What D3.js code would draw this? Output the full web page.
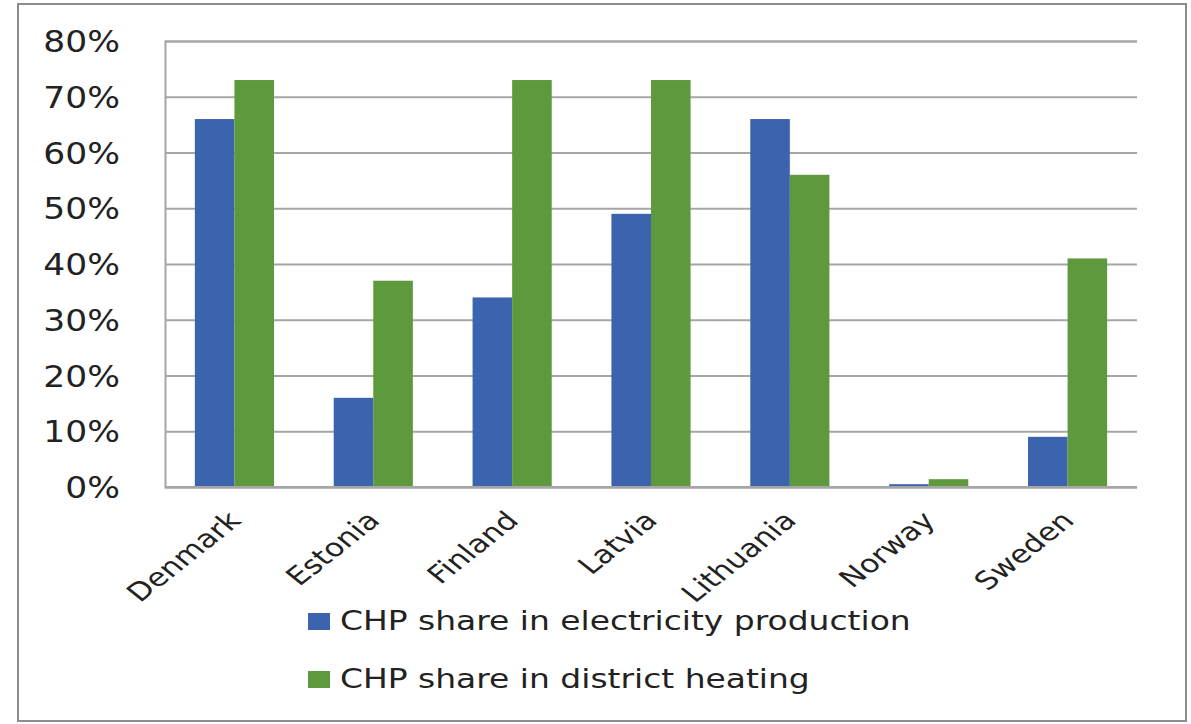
<!DOCTYPE html>
<html>
<head>
<meta charset="utf-8">
<script src="https://cdn.jsdelivr.net/npm/d3@7"></script>
<style>
  body { margin: 0; background: #fff; }
  svg text { font-family: "DejaVu Sans", Verdana, sans-serif; fill: #222; }
</style>
</head>
<body>
<div id="chart"></div>
<script>
// Data
var countries = ["Denmark", "Estonia", "Finland", "Latvia", "Lithuania", "Norway", "Sweden"];
var electricity = [66, 16, 34, 49, 66, 0.5, 9];
var heating = [73, 37, 73, 73, 56, 1.4, 41];
var seriesNames = ["CHP share in electricity production", "CHP share in district heating"];
var yTicks = [0, 10, 20, 30, 40, 50, 60, 70, 80];

// Measurement
var w = 1191, h = 724;
var plot = { left: 165, right: 1137, top: 41, bottom: 487 };
var colors = ["#3c63ad", "#5f993d"];
// the reference is stretched sideways, so text is widened a little
var stretchY = 1.15, stretchX = 1.26, stretchLeg = 1.22;

var svg = d3.select("#chart").append("svg")
  .attr("width", w)
  .attr("height", h);

// outer frame
svg.append("rect")
  .attr("x", 18).attr("y", 4)
  .attr("width", 1168).attr("height", 717)
  .attr("fill", "#fff")
  .attr("stroke", "#8c8c8c")
  .attr("stroke-width", 2);

// Scaling
var x0 = d3.scaleBand()
  .domain(countries)
  .range([plot.left, plot.right])
  .paddingInner(0.43)
  .paddingOuter(0.215);

var x1 = d3.scaleBand()
  .domain([0, 1])
  .range([0, x0.bandwidth()]);

var y = d3.scaleLinear()
  .domain([0, 80])
  .range([plot.bottom, plot.top]);

// gridlines
var yAxis = d3.axisLeft(y)
  .tickValues(yTicks)
  .tickSize(-(plot.right - plot.left))
  .tickFormat("");

svg.append("g")
  .attr("class", "grid")
  .attr("transform", "translate(" + plot.left + ",0)")
  .call(yAxis)
  .call(function(g) {
    g.select(".domain").attr("stroke", "#a6a6a6").attr("stroke-width", 2);
    g.selectAll(".tick line").attr("stroke", "#a6a6a6").attr("stroke-width", 2);
  });

// y tick labels
svg.selectAll(".ylab")
  .data(yTicks)
  .enter()
  .append("text")
  .attr("class", "ylab")
  .attr("transform", function(d) {
    return "translate(120," + (y(d) + 11) + ") scale(" + stretchY + ",1)";
  })
  .attr("text-anchor", "end")
  .attr("font-size", 30)
  .text(function(d) { return d + "%"; });

// bars
var rows = countries.map(function(c, i) {
  return { country: c, values: [electricity[i], heating[i]] };
});

var groups = svg.selectAll(".grp")
  .data(rows)
  .enter()
  .append("g")
  .attr("class", "grp")
  .attr("transform", function(d) { return "translate(" + x0(d.country) + ",0)"; });

groups.selectAll("rect")
  .data(function(d) { return d.values.map(function(v, k) { return { k: k, v: v }; }); })
  .enter()
  .append("rect")
  .attr("x", function(d) { return x1(d.k); })
  .attr("width", x1.bandwidth())
  .attr("y", function(d) { return y(d.v); })
  .attr("height", function(d) { return plot.bottom - y(d.v); })
  .attr("fill", function(d) { return colors[d.k]; });

// bottom axis line on top of bars
svg.append("line")
  .attr("x1", plot.left).attr("x2", plot.right)
  .attr("y1", plot.bottom).attr("y2", plot.bottom)
  .attr("stroke", "#a6a6a6")
  .attr("stroke-width", 2);

// x labels
svg.selectAll(".xlab")
  .data(countries)
  .enter()
  .append("text")
  .attr("class", "xlab")
  .attr("transform", function(d) {
    var cx = x0(d) + x0.bandwidth() / 2;
    return "translate(" + (cx + 8) + ",522) scale(" + stretchX + ",1) rotate(-45)";
  })
  .attr("text-anchor", "end")
  .attr("font-size", 25)
  .text(function(d) { return d; });

// Legend
var legend = svg.selectAll(".leg")
  .data(seriesNames)
  .enter()
  .append("g")
  .attr("class", "leg")
  .attr("transform", function(d, i) { return "translate(308," + (613 + i * 58) + ")"; });

legend.append("rect")
  .attr("width", 22)
  .attr("height", 17)
  .attr("fill", function(d, i) { return colors[i]; });

legend.append("text")
  .attr("transform", "translate(32,17) scale(" + stretchLeg + ",1)")
  .attr("font-size", 27)
  .text(function(d) { return d; });
</script>
</body>
</html>
